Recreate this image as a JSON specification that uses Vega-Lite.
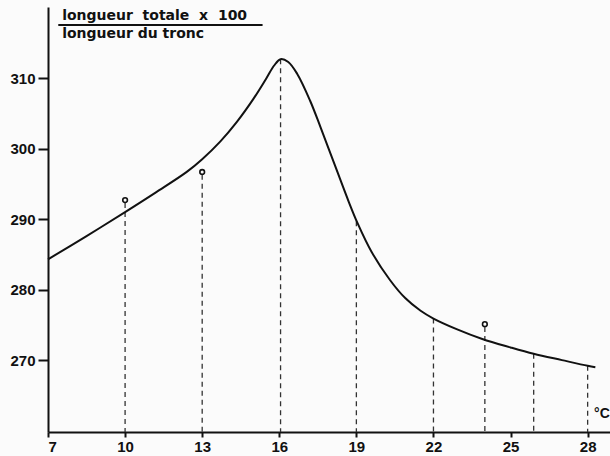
{
  "$schema": "https://vega.github.io/schema/vega-lite/v6.json",
  "width": 562,
  "height": 425,
  "autosize": {"type": "none"},
  "padding": {"left": 48, "top": 7, "right": 0, "bottom": 24},
  "background": "#fbfbfb",
  "config": {
    "view": {"stroke": null},
    "axis": {
      "grid": false,
      "domainColor": "#111",
      "domainWidth": 2,
      "tickColor": "#111",
      "tickWidth": 2,
      "labelFont": "Liberation Sans",
      "labelFontWeight": "bold",
      "labelFontSize": 15,
      "labelColor": "#111",
      "title": null
    }
  },
  "datasets": {
    "curve": [
      {"t": 7.0, "r": 284.3},
      {"t": 8.5, "r": 287.6},
      {"t": 10.0, "r": 291.0},
      {"t": 11.2, "r": 293.8},
      {"t": 12.4, "r": 296.7},
      {"t": 13.0, "r": 298.5},
      {"t": 13.7, "r": 301.0},
      {"t": 14.35, "r": 303.8},
      {"t": 15.0, "r": 307.1},
      {"t": 15.5, "r": 310.0},
      {"t": 15.8, "r": 311.8},
      {"t": 16.05, "r": 312.7},
      {"t": 16.35, "r": 312.3},
      {"t": 16.7, "r": 310.6},
      {"t": 17.2, "r": 306.8},
      {"t": 17.6, "r": 303.1},
      {"t": 18.2, "r": 297.3},
      {"t": 18.7, "r": 292.5},
      {"t": 19.05, "r": 289.4},
      {"t": 19.6, "r": 285.3},
      {"t": 20.3, "r": 281.4},
      {"t": 20.9, "r": 278.8},
      {"t": 21.5, "r": 277.0},
      {"t": 22.0, "r": 275.9},
      {"t": 22.9, "r": 274.4},
      {"t": 23.9, "r": 273.0},
      {"t": 25.0, "r": 271.8},
      {"t": 25.9, "r": 270.9},
      {"t": 27.0, "r": 270.0},
      {"t": 28.0, "r": 269.2},
      {"t": 28.3, "r": 269.0}
    ],
    "points": [
      {"t": 10, "r": 292.7},
      {"t": 13, "r": 296.7},
      {"t": 24, "r": 275.1}
    ],
    "drops": [
      {"t": 10, "r": 292.3},
      {"t": 13, "r": 296.3},
      {"t": 16.05, "r": 312.7},
      {"t": 19, "r": 289.7},
      {"t": 22, "r": 275.9},
      {"t": 24, "r": 274.7},
      {"t": 25.9, "r": 270.9},
      {"t": 28, "r": 269.2}
    ],
    "labels": [
      {"t": 7.55, "r": 318.3, "txt": "longueur\u00a0 totale\u00a0 x\u00a0 100"},
      {"t": 7.55, "r": 315.7, "txt": "longueur du tronc"}
    ],
    "unit": [
      {"t": 28.25, "r": 262.3, "txt": "°C"}
    ],
    "frac": [
      {"t": 7.4, "t2": 15.35, "r": 317.55}
    ]
  },
  "encoding": {
    "x": {
      "field": "t",
      "type": "quantitative",
      "scale": {"domain": [7, 28.87], "nice": false, "zero": false},
      "axis": {"values": [7, 10, 13, 16, 19, 22, 25, 28], "tickSize": 5, "labelPadding": 2}
    },
    "y": {
      "field": "r",
      "type": "quantitative",
      "scale": {"domain": [259.8, 320.1], "nice": false, "zero": false},
      "axis": {"values": [270, 280, 290, 300, 310], "tickSize": 10, "labelPadding": 3}
    }
  },
  "layer": [
    {
      "data": {"name": "drops"},
      "mark": {"type": "rule", "strokeDash": [5, 4], "strokeWidth": 1.3, "color": "#333"},
      "encoding": {"y2": {"datum": 259.8}}
    },
    {
      "data": {"name": "curve"},
      "mark": {"type": "line", "interpolate": "catmull-rom", "strokeWidth": 2, "color": "#111"}
    },
    {
      "data": {"name": "points"},
      "mark": {"type": "point", "filled": false, "size": 22, "strokeWidth": 1.6, "color": "#111", "opacity": 1}
    },
    {
      "data": {"name": "labels"},
      "mark": {"type": "text", "align": "left", "baseline": "alphabetic", "font": "DejaVu Sans", "fontWeight": "bold", "fontSize": 14, "color": "#111"},
      "encoding": {"text": {"field": "txt"}}
    },
    {
      "data": {"name": "unit"},
      "mark": {"type": "text", "align": "left", "baseline": "middle", "font": "Liberation Sans", "fontWeight": "bold", "fontSize": 14, "color": "#111"},
      "encoding": {"text": {"field": "txt"}}
    },
    {
      "data": {"name": "frac"},
      "mark": {"type": "rule", "strokeWidth": 2, "color": "#111"},
      "encoding": {"x2": {"field": "t2"}}
    }
  ]
}
